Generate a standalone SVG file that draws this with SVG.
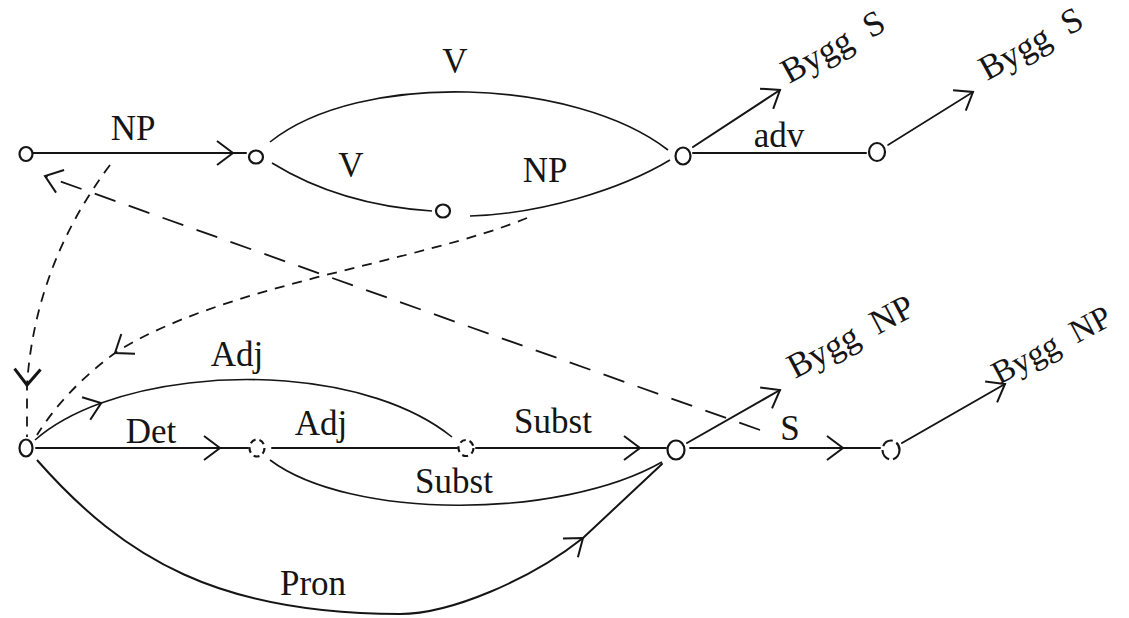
<svg xmlns="http://www.w3.org/2000/svg" width="1129" height="618" viewBox="0 0 1129 618">
<style>
.e{fill:none;stroke:#151515;stroke-width:2;stroke-linecap:round}
.c{fill:none;stroke:#151515;stroke-width:1.6}
.dash{fill:none;stroke:#151515;stroke-width:1.8;stroke-dasharray:10 8}
.ldash{fill:none;stroke:#151515;stroke-width:1.8;stroke-dasharray:22 14}
.n{fill:none;stroke:#151515;stroke-width:2.2}
.t{font-family:"Liberation Serif","Times New Roman",serif;font-size:35px;fill:#151515}
.m{text-anchor:middle}
</style>
<defs>
<marker id="chev" viewBox="-20 -15 24 30" refX="0" refY="0" markerWidth="24" markerHeight="30" markerUnits="userSpaceOnUse" orient="auto">
<path d="M-16,-12 L0,0 L-16,12" fill="none" stroke="#151515" stroke-width="2" stroke-dasharray="none"/>
</marker>
<marker id="chevB" viewBox="-20 -15 24 30" refX="0" refY="0" markerWidth="24" markerHeight="30" markerUnits="userSpaceOnUse" orient="auto">
<path d="M-16,-13 L0,0 L-16,13" fill="none" stroke="#151515" stroke-width="3" stroke-dasharray="none"/>
</marker>
</defs>
<rect width="1129" height="618" fill="#ffffff"/>
<g id="connectors">
<path class="e" d="M33,153 L233,153 L246,153" marker-mid="url(#chev)"/>
<path class="c" d="M270,142 C360,70 575,78 668,150"/>
<path class="c" d="M272,163 Q340,205 432,211"/>
<path class="c" d="M470,216 C540,214 620,190 670,160"/>
<path class="e" d="M693,147 L780,90" marker-end="url(#chev)"/>
<path class="e" d="M693,153 L866,153"/>
<path class="e" style="stroke-width:1.6" d="M888,145 L973,92" marker-end="url(#chev)"/>
<path class="dash" d="M110,165 Q35,265 27,385 L27,437" marker-mid="url(#chevB)"/>
<path class="dash" d="M527,218 C420,262 220,285 115,353 Q65,390 37,435" marker-mid="url(#chev)"/>
<path class="ldash" d="M760,430 L45,176" marker-end="url(#chev)"/>
<path class="c" d="M35,440 C52,425 74.8,412.6 101.2,403 C206.9,364.7 370.4,371.4 452,437" marker-mid="url(#chev)"/>
<path class="e" d="M36,448 L220,448 L248,448" marker-mid="url(#chev)"/>
<path class="e" d="M272,448 L457,448"/>
<path class="c" d="M270,460 C350,520 560,520 662,462"/>
<path class="e" d="M476,448 L640,448 L666,448" marker-mid="url(#chev)"/>
<path class="c" style="stroke-width:2" d="M37,460 C125,560 220,614 400,614 C450,614 530,580 583,538" marker-end="url(#chev)"/>
<path class="e" d="M583,538 L662,464"/>
<path class="e" d="M687,443 L780,390" marker-end="url(#chev)"/>
<path class="e" d="M690,448 L843,448 L880,448" marker-mid="url(#chev)"/>
<path class="e" d="M902,443 L1005,384" marker-end="url(#chev)"/>
</g>
<g id="node-a"><ellipse class="n" cx="26" cy="154" rx="6.5" ry="7"/></g>
<g id="node-b"><ellipse class="n" cx="256" cy="157" rx="7" ry="6.5"/></g>
<g id="node-c"><ellipse class="n" cx="683" cy="156" rx="7.5" ry="8.5"/></g>
<g id="node-d"><ellipse class="n" cx="877" cy="152" rx="8" ry="9"/></g>
<g id="node-e"><ellipse class="n" cx="443" cy="211" rx="7" ry="6.5"/></g>
<g id="node-f"><ellipse class="n" cx="26" cy="448" rx="6.5" ry="8.5"/></g>
<g id="node-g"><ellipse class="n" cx="257" cy="448" rx="7.5" ry="8.5" style="stroke-dasharray:6 4"/></g>
<g id="node-h"><ellipse class="n" cx="466" cy="448" rx="7.5" ry="8" style="stroke-dasharray:6 4"/></g>
<g id="node-i"><ellipse class="n" cx="676" cy="450" rx="8.5" ry="9.5"/></g>
<g id="node-j"><ellipse class="n" cx="891" cy="450" rx="8.5" ry="9.5" style="stroke-dasharray:12 4"/></g>
<g id="labels">
<text class="t m" x="133" y="140">NP</text>
<text class="t m" x="455" y="73">V</text>
<text class="t m" x="351" y="177">V</text>
<text class="t m" x="545" y="182">NP</text>
<text class="t m" x="779" y="147">adv</text>
<text class="t m" x="237" y="366">Adj</text>
<text class="t m" x="151" y="443">Det</text>
<text class="t m" x="321" y="435">Adj</text>
<text class="t m" x="553" y="433">Subst</text>
<text class="t m" x="454" y="493">Subst</text>
<text class="t m" x="790" y="440">S</text>
<text class="t m" x="313" y="595">Pron</text>
<text class="t" transform="translate(789,84) rotate(-29)" xml:space="preserve">Bygg  S</text>
<text class="t" transform="translate(987,81) rotate(-29)" xml:space="preserve">Bygg  S</text>
<text class="t" transform="translate(795,379) rotate(-28)" xml:space="preserve">Bygg  NP</text>
<text class="t" style="font-size:33px" transform="translate(999,385) rotate(-28)" xml:space="preserve">Bygg  NP</text>
</g>
</svg>
